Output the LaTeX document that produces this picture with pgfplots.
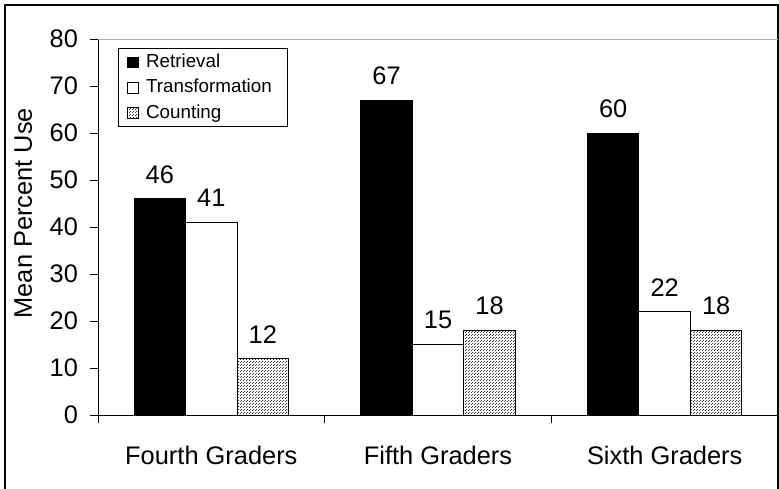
\documentclass[border=0pt]{standalone}
\usepackage{pgfplots}
\pgfplotsset{compat=1.18}
\usepackage{fontspec}
\setmainfont{Liberation Sans}
\usetikzlibrary{patterns}
\pgfdeclarepatternformonly{finedots}{\pgfqpoint{0pt}{0pt}}{\pgfqpoint{1.5pt}{1.5pt}}{\pgfqpoint{1.5pt}{1.5pt}}{%
  \pgfpathrectangle{\pgfqpoint{0pt}{0pt}}{\pgfqpoint{0.6pt}{0.5pt}}%
  \pgfpathrectangle{\pgfqpoint{0.75pt}{0.75pt}}{\pgfqpoint{0.6pt}{0.5pt}}%
  \pgfusepath{fill}}
\begin{document}
\begin{tikzpicture}
\useasboundingbox (0,0) rectangle (389.5pt,244pt);
\draw[line width=1pt] (2.5pt,-10pt) rectangle (388.75pt,241.5pt);
\begin{axis}[
  at={(49pt,36.5pt)}, anchor=south west,
  scale only axis, width=340pt, height=188pt,
  ybar=0pt, bar width=25.75pt,
  xmin=-0.5, xmax=2.5, ymin=0, ymax=80,
  axis x line*=bottom, axis y line*=left,
  axis line style={-, line width=0.5pt},
  xtick={-0.5,0.5,1.5,2.5}, xticklabels={},
  extra x ticks={0,1,2},
  extra x tick labels={Fourth Graders, Fifth Graders, Sixth Graders},
  extra x tick style={tick style={draw=none}, xticklabel style={yshift=-8pt}},
  ytick={0,10,...,80},
  tick align=outside, major tick length=4pt,
  tick style={line width=0.5pt, black},
  /pgf/number format/assume math mode=true,
  tick label style={font=\fontsize{12.7}{15}\selectfont},
  yticklabel style={xshift=-2.5pt},
  ylabel={Mean Percent Use},
  every axis y label/.style={at={(axis description cs:-0.11,0.537)}, rotate=90, anchor=center, font=\fontsize{12.7}{15}\selectfont},
  nodes near coords,
  every node near coord/.append style={font=\fontsize{12.7}{15}\selectfont, inner sep=0pt, yshift=7.5pt, black},
  legend style={at={(axis description cs:0.0294,0.976)}, anchor=north west, font=\fontsize{9.4}{11}\selectfont, draw=black, line width=0.5pt, inner xsep=4.5pt, inner ysep=0.8pt, row sep=0.3pt, nodes={inner xsep=3.5pt}},
  legend cell align=left,
  legend image code/.code={\draw[#1, line width=0.4pt] (0pt,-2.7pt) rectangle (5.4pt,2.7pt);},
]
\addplot[fill=black, draw=black, line width=0.5pt] coordinates {(0,46) (1,67) (2,60)};
\addplot[fill=white, draw=black, line width=0.5pt] coordinates {(0,41) (1,15) (2,22)};
\addplot[pattern=finedots, pattern color=black!75, draw=black, line width=0.5pt] coordinates {(0,12) (1,18) (2,18)};
\legend{Retrieval, Transformation, Counting}
\draw[color=black!32, line width=1pt] (axis cs:-0.5,80) -- (axis cs:2.5,80);
\end{axis}
\end{tikzpicture}
\end{document}
